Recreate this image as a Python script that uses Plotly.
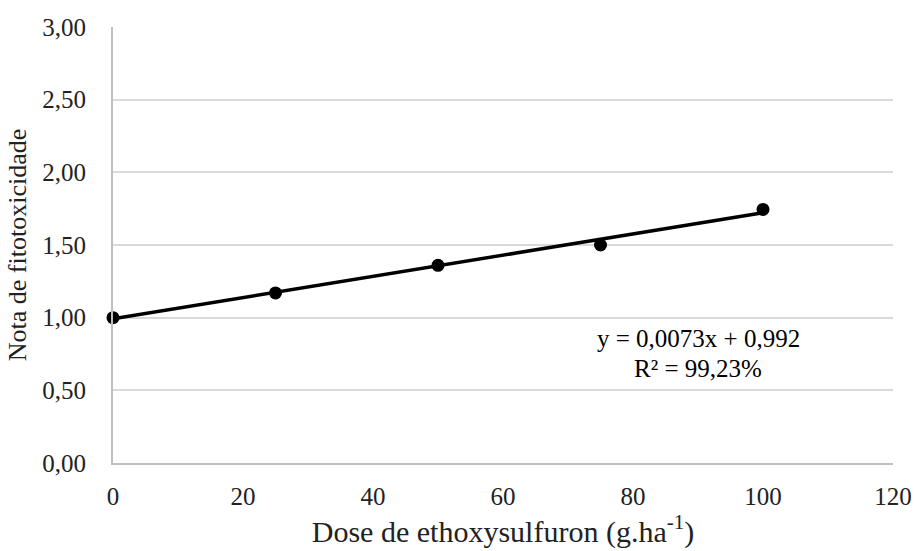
import plotly.graph_objects as go

doses = [0, 25, 50, 75, 100]
notas = [1.00, 1.17, 1.36, 1.50, 1.745]
slope = 0.0073
intercept = 0.992
fit_x = [0, 100]
fit_y = [intercept + slope * x for x in fit_x]
eq_text = "y = 0,0073x + 0,992"
r2_text = "R² = 99,23%"

font = "Liberation Serif"

fig = go.Figure()
fig.add_trace(go.Scatter(x=fit_x, y=fit_y, mode="lines",
                         line=dict(color="black", width=3.5), showlegend=False))
fig.add_trace(go.Scatter(x=doses, y=notas, mode="markers",
                         marker=dict(color="black", size=13), showlegend=False,
                         cliponaxis=False))

fig.add_annotation(x=90.0, y=0.86, text=eq_text, showarrow=False, borderpad=0,
                   font=dict(family=font, size=25, color="black"))
fig.add_annotation(x=90.0, y=0.647, text=r2_text, showarrow=False, borderpad=0,
                   font=dict(family=font, size=25, color="black"))

fig.update_layout(
    width=916, height=551,
    margin=dict(l=113, r=23, t=27, b=88),
    paper_bgcolor="white", plot_bgcolor="white",
    separators=",.",
    font=dict(family=font, size=25, color="#222"),
    xaxis=dict(range=[0, 120], dtick=20, tick0=0, showgrid=False,
               showline=True, linecolor="#bfbfbf", linewidth=2,
               zeroline=False, ticks="", ticklabelstandoff=10,
               ticklabeloverflow="allow", automargin=False,
               tickfont=dict(size=25, family=font, color="#222"),
               title=dict(text="Dose de ethoxysulfuron (g.ha<sup>-1</sup>)",
                          font=dict(size=30, family=font, color="#222"),
                          standoff=12)),
    yaxis=dict(range=[0, 3], dtick=0.5, tickformat=".2f",
               showgrid=True, gridcolor="#d9d9d9", gridwidth=1.5,
               showline=True, linecolor="#bfbfbf", linewidth=2,
               zeroline=False, ticks="", ticklabelstandoff=20,
               automargin=False,
               tickfont=dict(size=25, family=font, color="#222"),
               title=dict(text="Nota de fitotoxicidade",
                          font=dict(size=26, family=font, color="#222"),
                          standoff=8)),
)

fig.write_html(
    "out.html",
    config={"displayModeBar": False},
    post_script="document.body.style.margin='0';document.documentElement.style.overflow='hidden';",
)
